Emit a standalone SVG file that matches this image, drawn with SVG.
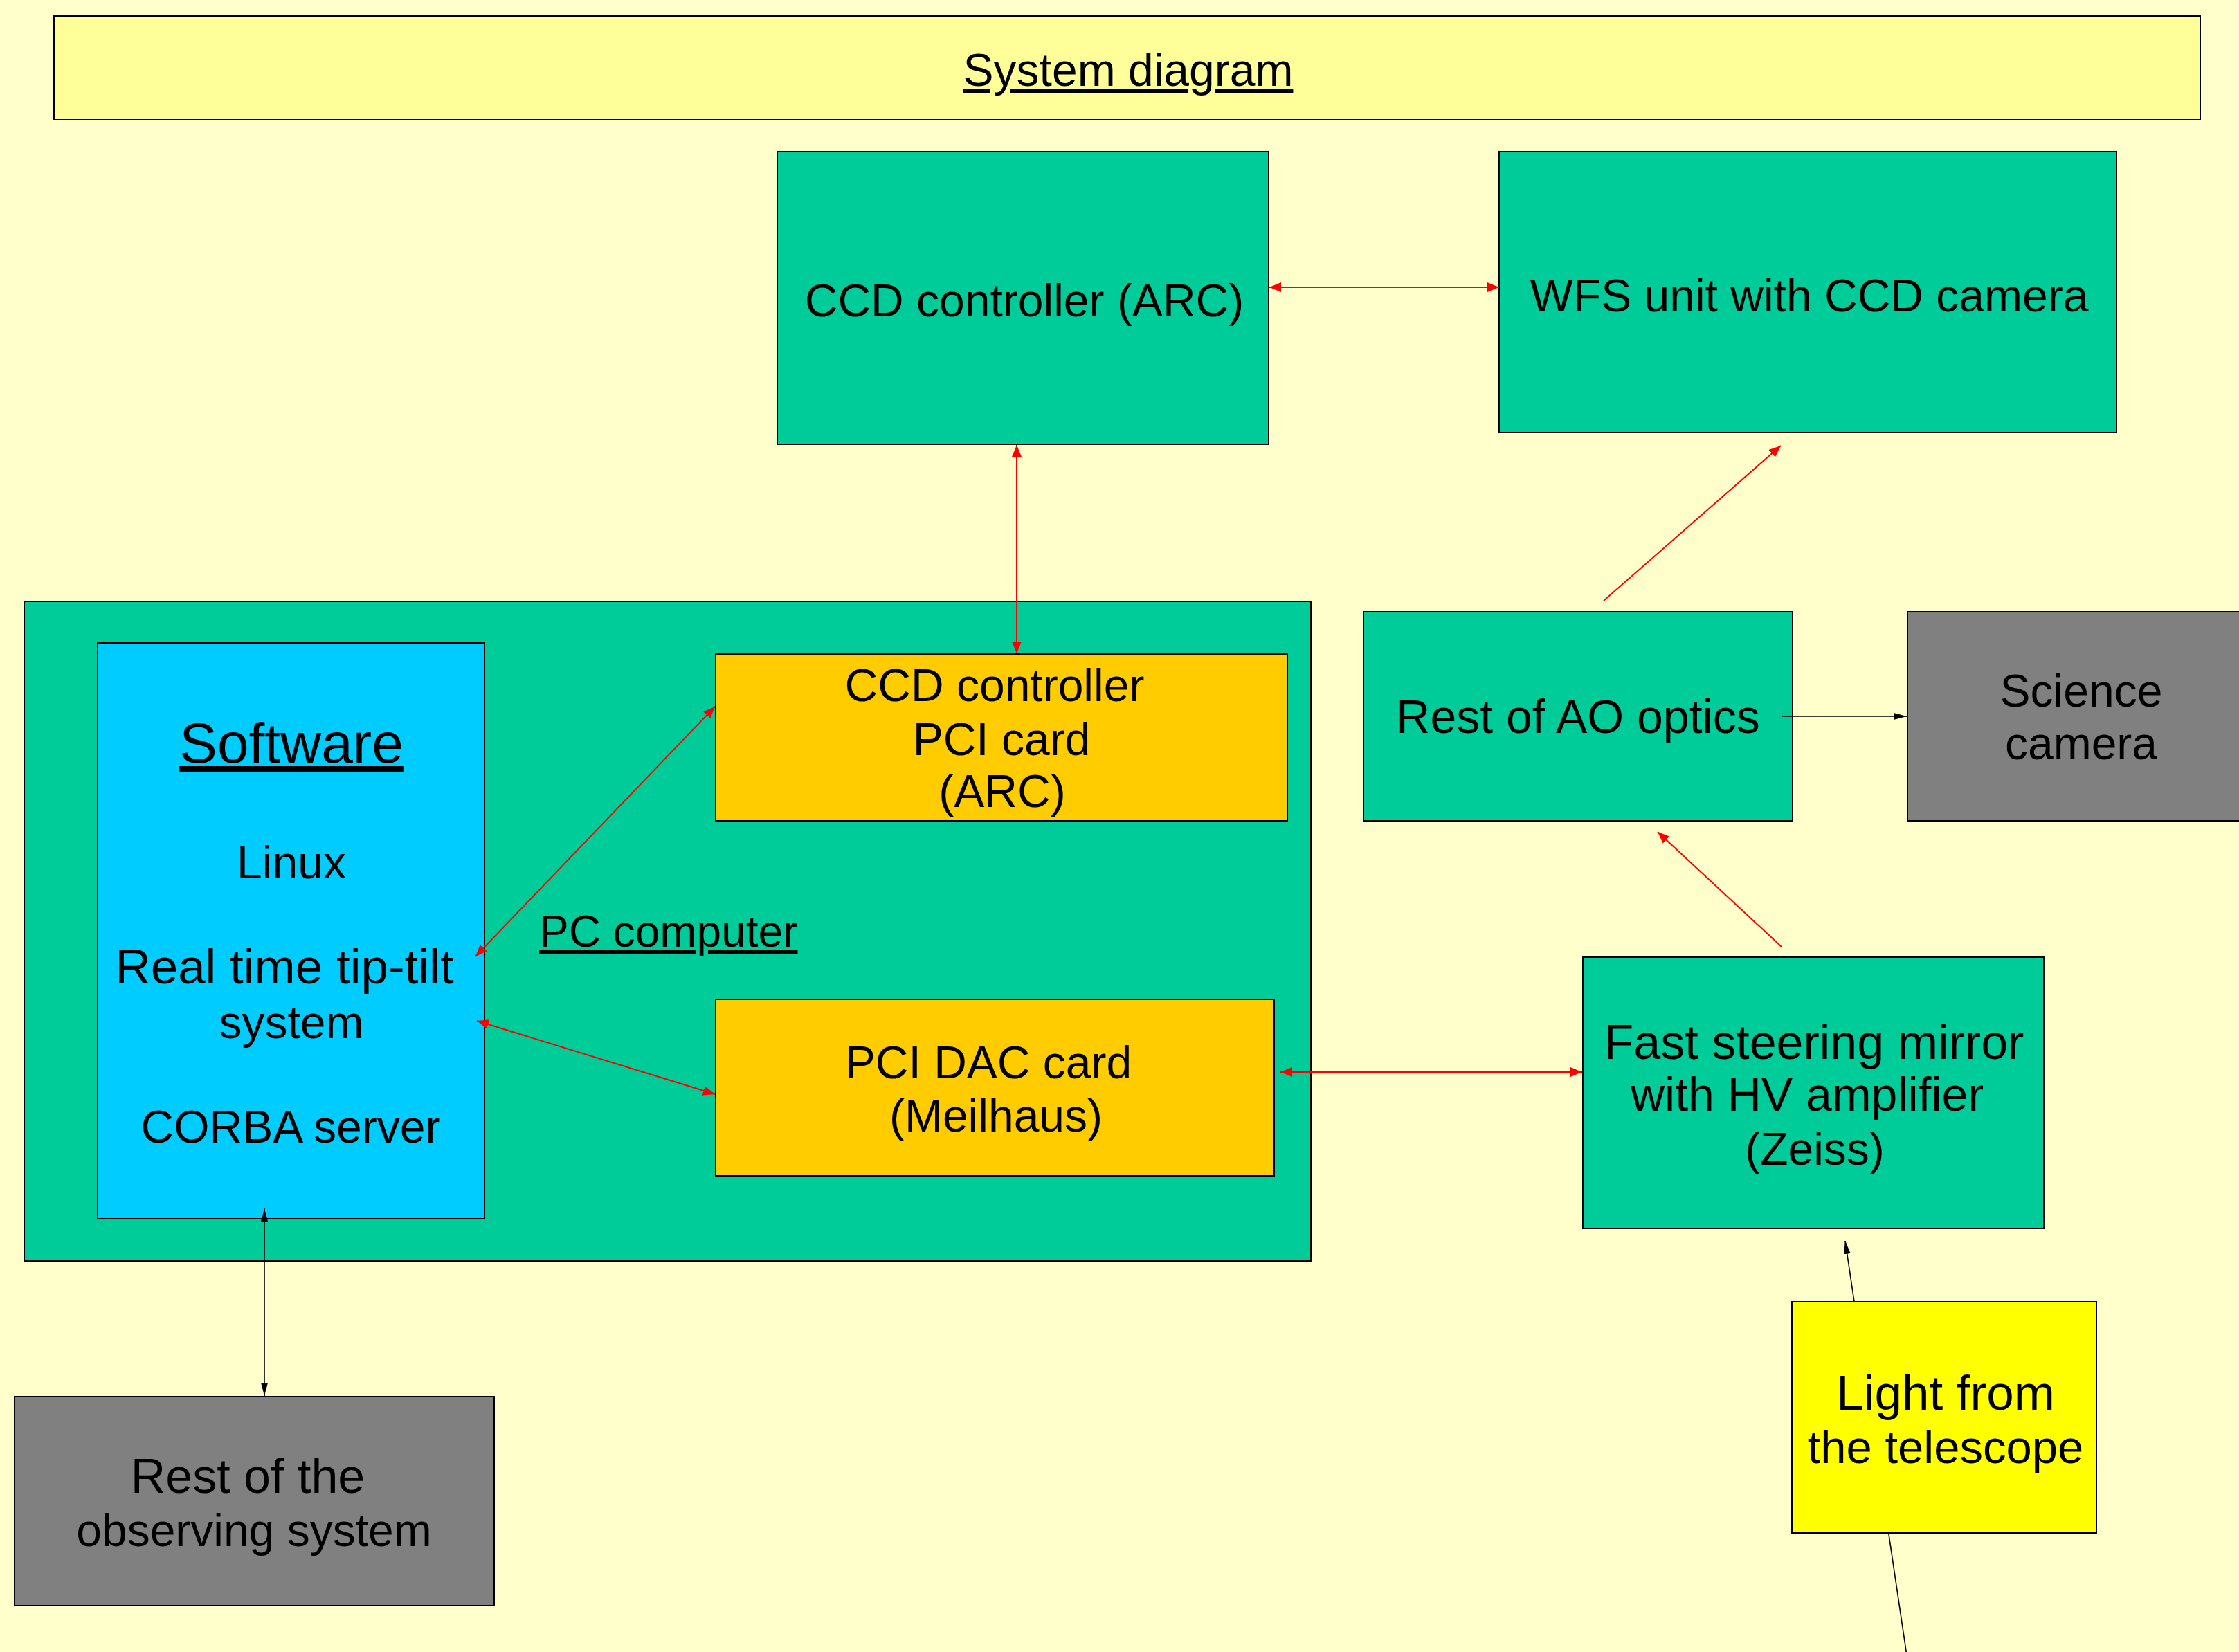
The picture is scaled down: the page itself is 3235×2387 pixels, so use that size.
<svg xmlns="http://www.w3.org/2000/svg" width="3235" height="2387" viewBox="0 0 3235 2387">
<style>
.bx{stroke:#000;stroke-width:2}
.g{fill:#00CC99}
.o{fill:#FFCC00}
.gr{fill:#808080}
text{font-family:"Liberation Sans",Arial,sans-serif;font-size:66px;fill:#000;text-anchor:middle}
.u{text-decoration:underline}
.r{stroke:#FF0000;stroke-width:2;fill:none}
.k{stroke:#000;stroke-width:1.6;fill:none}
</style>
<defs>
<marker id="ar" markerUnits="userSpaceOnUse" markerWidth="18" markerHeight="16" refX="17" refY="7" orient="auto-start-reverse"><path d="M0,0 L17,7 L0,14 z" fill="#FF0000"/></marker>
<marker id="ak" markerUnits="userSpaceOnUse" markerWidth="20" markerHeight="12" refX="19" refY="5" orient="auto-start-reverse"><path d="M0,0 L19,5 L0,10 z" fill="#000"/></marker>
</defs>
<rect width="3235" height="2387" fill="#FFFFCC"/>
<g id="title"><rect class="bx" x="78" y="23" width="3101" height="150" fill="#FFFF99"/><text class="u" x="1630" y="124">System diagram</text></g>
<g id="ccd-controller"><rect class="bx g" x="1123" y="219" width="710" height="423"/><text x="1480" y="457">CCD controller (ARC)</text></g>
<g id="wfs-unit"><rect class="bx g" x="2166" y="219" width="892" height="406"/><text x="2614" y="450">WFS unit with CCD camera</text></g>
<g id="pc-computer"><rect class="bx g" x="35" y="869" width="1859" height="953"/><text class="u" x="779" y="1368" style="text-anchor:start;font-size:64px">PC computer</text></g>
<g id="software"><rect class="bx" x="141" y="929" width="559" height="832" fill="#00CCFF"/>
<text class="u" x="421" y="1102" style="font-size:82px">Software</text>
<text x="421" y="1269">Linux</text>
<text x="411" y="1421" style="font-size:71px">Real time tip-tilt</text>
<text x="421" y="1500">system</text>
<text x="420" y="1651">CORBA server</text></g>
<g id="pci-ccd-card"><rect class="bx o" x="1034" y="945" width="826" height="241"/>
<text x="1437" y="1013">CCD controller</text><text x="1447" y="1091">PCI card</text><text x="1448" y="1166">(ARC)</text></g>
<g id="pci-dac-card"><rect class="bx o" x="1034" y="1444" width="807" height="255"/>
<text x="1428" y="1558">PCI DAC card</text><text x="1439" y="1635">(Meilhaus)</text></g>
<g id="rest-observing"><rect class="bx gr" x="21" y="2018" width="693" height="302"/>
<text x="358" y="2157" style="font-size:70px">Rest of the</text><text x="367" y="2234">observing system</text></g>
<g id="rest-ao"><rect class="bx g" x="1970" y="884" width="620" height="302"/><text x="2280" y="1059" style="font-size:68px">Rest of AO optics</text></g>
<g id="science-camera"><rect class="bx gr" x="2756" y="884" width="500" height="302"/>
<text x="3007" y="1021">Science</text><text x="3007" y="1097">camera</text></g>
<g id="fsm"><rect class="bx g" x="2287" y="1383" width="666" height="392"/>
<text x="2621" y="1530" style="font-size:70px">Fast steering mirror</text><text x="2611" y="1605" style="font-size:68px">with HV amplifier</text><text x="2622" y="1683">(Zeiss)</text></g>
<g id="connectors">
<line class="r" x1="1834" y1="415" x2="2166" y2="415" marker-start="url(#ar)" marker-end="url(#ar)"/>
<line class="r" x1="1469" y1="643" x2="1469" y2="944" marker-start="url(#ar)" marker-end="url(#ar)"/>
<line class="r" x1="687" y1="1382" x2="1033" y2="1021" marker-start="url(#ar)" marker-end="url(#ar)"/>
<line class="r" x1="689" y1="1475" x2="1033" y2="1581" marker-start="url(#ar)" marker-end="url(#ar)"/>
<line class="r" x1="1850" y1="1549" x2="2286" y2="1549" marker-start="url(#ar)" marker-end="url(#ar)"/>
<line class="r" x1="2317" y1="868" x2="2573" y2="644" marker-end="url(#ar)"/>
<line class="r" x1="2574" y1="1368" x2="2395" y2="1202" marker-end="url(#ar)"/>
<line class="k" x1="2575" y1="1035" x2="2755" y2="1035" marker-end="url(#ak)"/>
<line class="k" x1="382" y1="1746" x2="382" y2="2017" marker-start="url(#ak)" marker-end="url(#ak)"/>
<line class="k" x1="2755" y1="2392" x2="2666" y2="1793" marker-end="url(#ak)"/>
</g>
<g id="light-from-telescope"><rect class="bx" x="2589" y="1881" width="440" height="334" fill="#FFFF00"/>
<text x="2811" y="2037" style="font-size:71px">Light from</text><text x="2811" y="2114" style="font-size:67px">the telescope</text></g>
</svg>
